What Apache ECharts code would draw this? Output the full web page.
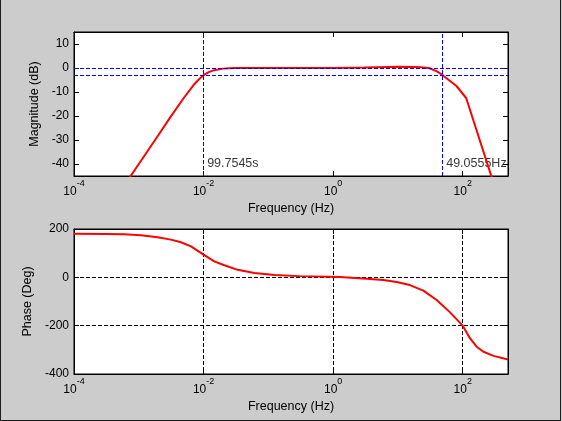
<!DOCTYPE html>
<html style="height: 100%">
<head>
<meta charset="utf-8">
<script src="https://cdn.jsdelivr.net/npm/echarts@6/dist/echarts.min.js"></script>
<style>
  body { margin: 0; background: #cccccc; overflow: hidden; }
  #container { position: absolute; left: 0; top: 0; width: 562px; height: 421px; }
  #frame { position: absolute; left: 0; top: 0; width: 561px; height: 421px; box-sizing: border-box;
           border-left: 1px solid #1e1e1e; border-right: 1px solid #1e1e1e; border-bottom: 1px solid #1e1e1e;
           pointer-events: none; }
</style>
</head>
<body>
<div id="container"></div>
<div id="frame"></div>
<script>
// bode data (frequency in Hz)
var freqMag = [1e-4, 3e-4, 1e-3, 2e-3, 3e-3, 5e-3, 7e-3, 8.5e-3, 0.01, 0.012, 0.0145, 0.02, 0.025, 0.03, 0.05, 0.1,
               1, 3, 5, 10, 18, 22, 30, 40, 49.0555, 80, 113, 500];
var magDb = [-80, -60.9, -40, -28, -20.9, -12.3, -7.1, -4.7, -3, -1.7, -0.9, -0.26, -0.11, -0.05, 0, 0,
             0.05, 0.2, 0.35, 0.5, 0.45, 0.35, 0, -1.4, -3, -7.5, -12.5, -66.6];

var freqPhase = [1e-4, 3e-4, 5.9e-4, 1.08e-3, 1.95e-3, 3.13e-3, 4.47e-3, 6.38e-3, 0.01, 0.0146, 0.0209, 0.0336,
                 0.0608, 0.124, 0.3, 1.27, 3.28, 5.94, 9.55, 15.3, 24.7, 39.6, 63.7, 100, 130, 164, 209, 298, 500];
var phaseDeg = [180, 179.5, 178, 174, 166, 156, 145, 128, 94, 66, 50, 31,
                18, 10, 5, 1.4, -6, -11, -19.5, -32, -55, -94, -145, -200, -253, -287, -308, -325, -340];

// markers
var timeConst = 99.7545;   // s
var highCut = 49.0555;     // Hz
var halfPower = -3;        // dB

var font = '"Liberation Sans", Arial, sans-serif';

function lg(f) { return Math.log10(f); }
var magPoints = freqMag.map(function (f, i) { return [lg(f), magDb[i]]; });
var phasePoints = freqPhase.map(function (f, i) { return [lg(f), phaseDeg[i]]; });

function decadeLabel(v) {
  if (Math.abs(v - Math.round(v)) > 1e-6) return '';
  return '{b|10}{s|' + Math.round(v) + '}';
}

var xMin = -4, xMax = lg(500);

function freqAxis(grid, pos, labels) {
  return {
    type: 'value', gridIndex: grid, position: pos, min: xMin, max: xMax, interval: 2,
    name: labels ? 'Frequency (Hz)' : '', nameLocation: 'middle', nameGap: 26,
    nameTextStyle: { fontFamily: font, fontSize: 12.5, color: '#000' },
    axisLine: { show: true, onZero: false, lineStyle: { color: '#000', width: 1 } },
    axisTick: { show: true, inside: true, length: 5, lineStyle: { color: '#000' } },
    axisLabel: {
      show: labels, margin: 3, formatter: decadeLabel,
      rich: {
        b: { fontFamily: font, fontSize: 12, lineHeight: 26, color: '#000' },
        s: { fontFamily: font, fontSize: 9, lineHeight: 10, verticalAlign: 'top', color: '#000' }
      }
    },
    splitLine: { show: grid === 1 && pos === 'bottom', lineStyle: { color: '#000', type: [4, 2] } }
  };
}

function valAxis(grid, pos, labels, opts) {
  var a = {
    type: 'value', gridIndex: grid, position: pos,
    nameLocation: 'middle', nameRotate: 90,
    nameTextStyle: { fontFamily: font, fontSize: 12.5, color: '#000' },
    axisLine: { show: true, onZero: false, lineStyle: { color: '#000', width: 1 } },
    axisTick: { show: true, inside: true, length: 5, lineStyle: { color: '#000' } },
    axisLabel: { show: labels, margin: 5, fontFamily: font, fontSize: 12, color: '#000' },
    splitLine: { show: false }
  };
  for (var k in opts) a[k] = opts[k];
  return a;
}

var dom = document.getElementById('container');
var myChart = echarts.init(dom);

var option = {
  animation: false,
  backgroundColor: '#cccccc',
  grid: [
    { left: 74, top: 32, width: 434, height: 144, show: true, backgroundColor: '#fff', borderColor: '#000', borderWidth: 1 },
    { left: 74, top: 229, width: 434, height: 145, show: true, backgroundColor: '#fff', borderColor: '#000', borderWidth: 1 }
  ],
  xAxis: [
    freqAxis(0, 'bottom', true),
    freqAxis(0, 'top', false),
    freqAxis(1, 'bottom', true),
    freqAxis(1, 'top', false)
  ],
  yAxis: [
    valAxis(0, 'left', true, {
      min: -45, max: 15, name: 'Magnitude (dB)', nameGap: 30,
      axisLabel: { show: true, margin: 5, fontFamily: font, fontSize: 12, color: '#000',
                   formatter: function (v) { return v % 10 === 0 ? String(v) : ''; } }
    }),
    valAxis(0, 'right', false, { min: -45, max: 15 }),
    valAxis(1, 'left', true, {
      min: -400, max: 200, interval: 200, name: 'Phase (Deg)', nameGap: 34,
      splitLine: { show: true, lineStyle: { color: '#000', type: [4, 2] } }
    }),
    valAxis(1, 'right', false, { min: -400, max: 200, interval: 200 })
  ],
  series: [
    {
      type: 'line', xAxisIndex: 0, yAxisIndex: 0, data: magPoints,
      showSymbol: false, symbol: 'none', clip: true,
      lineStyle: { color: '#ff0000', width: 2 },
      markLine: {
        silent: true, symbol: 'none', animation: false,
        label: { show: false },
        lineStyle: { color: '#0000ff', width: 1, type: [4, 2] },
        data: [ { yAxis: 0 }, { yAxis: halfPower }, { xAxis: lg(1 / timeConst) }, { xAxis: lg(highCut) } ]
      }
    },
    {
      type: 'scatter', xAxisIndex: 0, yAxisIndex: 0, symbolSize: 1,
      itemStyle: { color: 'rgba(0,0,0,0)' },
      data: [
        { value: [lg(1 / timeConst), -40], name: timeConst + 's' },
        { value: [lg(highCut), -40], name: highCut + 'Hz' }
      ],
      label: { show: true, position: 'right', distance: 3, formatter: '{b}',
               fontFamily: font, fontSize: 12.5, color: '#000' }
    },
    {
      type: 'line', xAxisIndex: 2, yAxisIndex: 2, data: phasePoints,
      showSymbol: false, symbol: 'none', smooth: false,
      lineStyle: { color: '#ff0000', width: 2 }
    }
  ]
};

myChart.setOption(option);
</script>
</body>
</html>
